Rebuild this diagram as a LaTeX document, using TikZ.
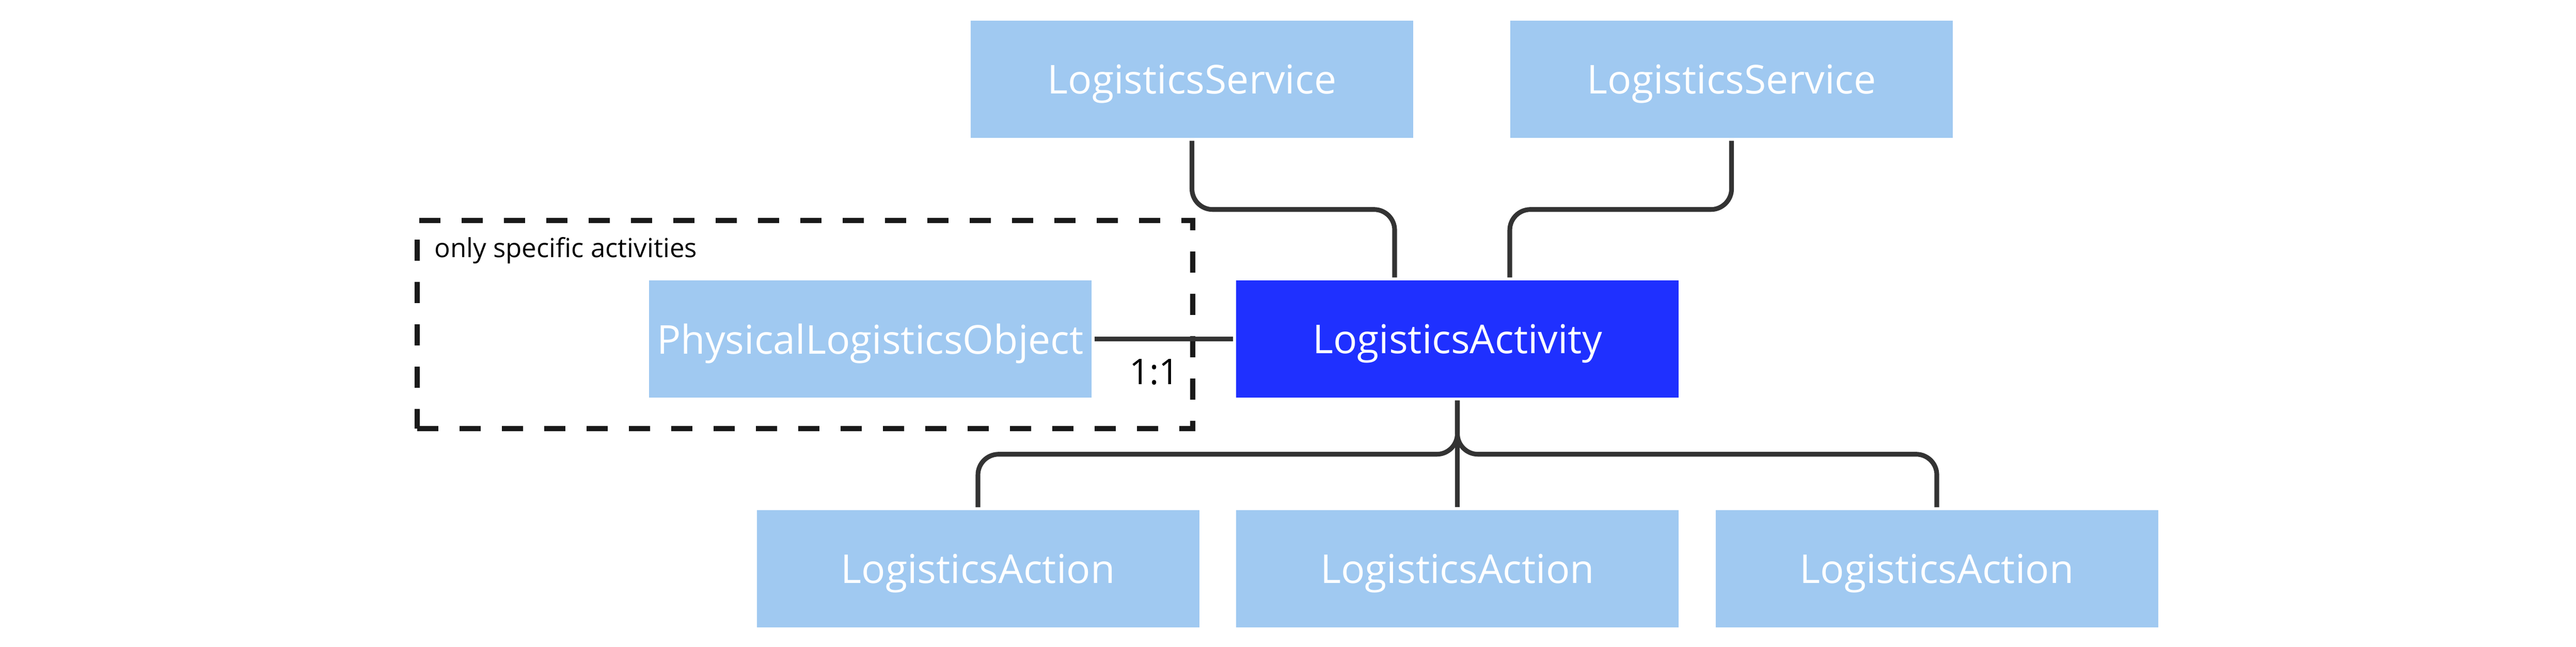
\documentclass[tikz,border=0pt]{standalone}
\usepackage{fontspec}
\setmainfont{Open Sans}
\usepackage{tikz}
\definecolor{lightblue}{HTML}{A0C9F1}
\definecolor{actblue}{HTML}{1F30FF}
\definecolor{linegray}{HTML}{333333}
\tikzstyle{box}=[fill=lightblue, text=white, minimum width=8.57cm, minimum height=2.27cm, inner sep=0pt, text depth=0pt, font=\fontsize{21.9}{26}\selectfont]
\tikzstyle{activity}=[box, fill=actblue]
\tikzstyle{link}=[line width=2.6pt, draw=linegray, rounded corners=0.4cm, shorten <=0.05cm, shorten >=0.05cm]
\tikzstyle{group}=[draw=black!90, line width=2.6pt, dash pattern=on 0.41cm off 0.41cm, outer sep=0pt, minimum width=15.02cm, minimum height=4.03cm]

\begin{document}
\begin{tikzpicture}
    \useasboundingbox (0,0) rectangle (49.89,-12.52);
    \node (act)  [activity] at (28.225,-6.565)                {LogisticsActivity};
    \node (obj)  [box, node distance=11.37cm, left of=act]    {PhysicalLogisticsObject};
    \node (srv1) [box] at (23.085,-1.535)                     {LogisticsService};
    \node (srv2) [box, node distance=10.45cm, right of=srv1]  {LogisticsService};
    \node (acn2) [box, node distance=4.45cm, below of=act]    {LogisticsAction};
    \node (acn1) [box, node distance=9.285cm, left of=acn2]   {LogisticsAction};
    \node (acn3) [box, node distance=9.285cm, right of=acn2]  {LogisticsAction};
    \node (grp)  [group] at (15.59,-6.285) {};
    \node (note) [anchor=base west, font=\fontsize{14.5}{17}\selectfont] at ([xshift=0.21cm, yshift=-0.71cm]grp.north west) {only specific activities};
    \coordinate (jn) at ([yshift=-1.09cm]act.south);
    \draw [link] (srv1.south) -- ++(0,-1.38) -| ([xshift=-1.215cm]act.north);
    \draw [link] (srv2.south) -- ++(0,-1.38) -| ([xshift=1.015cm]act.north);
    \draw [link] (act.south) -- (acn2.north);
    \draw [link] (acn1.north) |- (jn) -- (act.south);
    \draw [link] (acn3.north) |- (jn) -- (act.south);
    \draw [link] (obj) -- (act) node[at end, anchor=base east, inner sep=0pt, xshift=-1.05cm, yshift=-0.88cm, font=\fontsize{19.5}{23}\selectfont] {1:1};
\end{tikzpicture}
\end{document}
